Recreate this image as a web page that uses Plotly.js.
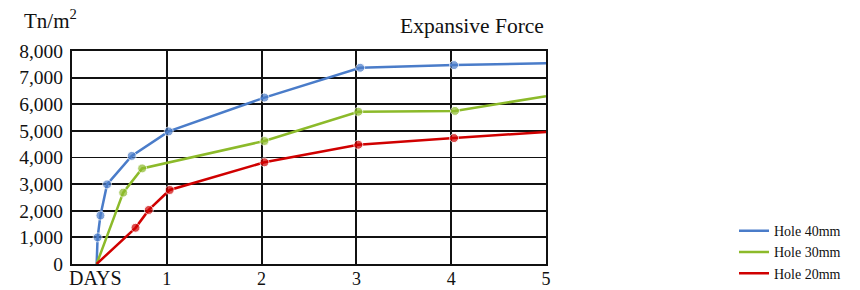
<!DOCTYPE html>
<html>
<head>
<meta charset="utf-8">
<script src="https://cdn.plot.ly/plotly-3.0.1.min.js"></script>
<style>html,body{margin:0;padding:0;background:#fff;}#chart{width:860px;height:290px;}</style>
</head>
<body>
<div id="chart"></div>
<script>
// Data (x in days, y in Tn/m²)
const hole40X = [0.26, 0.27, 0.30, 0.37, 0.63, 1.02, 2.03, 3.04, 4.03, 5.0];
const hole40Y = [0, 1000, 1820, 2990, 4060, 4980, 6250, 7370, 7470, 7540];
const hole40Marker = [0, 9, 9, 9, 9, 9, 9, 9, 9, 0];

const hole30X = [0.26, 0.54, 0.74, 2.03, 3.02, 4.04, 5.0];
const hole30Y = [0, 2680, 3590, 4620, 5720, 5750, 6300];
const hole30Marker = [0, 9, 9, 9, 9, 9, 0];

const hole20X = [0.26, 0.67, 0.81, 1.03, 2.03, 3.02, 4.03, 5.0];
const hole20Y = [0, 1360, 2030, 2780, 3820, 4480, 4730, 4960];
const hole20Marker = [0, 9, 9, 9, 9, 9, 9, 0];

const seriesNames = ['Hole 40mm', 'Hole 30mm', 'Hole 20mm'];
const seriesColors = ['#4a7cc9', '#8cba2a', '#d00000'];

const xTickVals = [1, 2, 3, 4, 5];
const xTickText = ['1', '2', '3', '4', '5'];
const yTickVals = [0, 1000, 2000, 3000, 4000, 5000, 6000, 7000, 8000];
const yTickText = ['0', '1,000', '2,000', '3,000', '4,000', '5,000', '6,000', '7,000', '8,000'];

const serif = '"Liberation Serif", "Times New Roman", serif';

function mk(x, y, sizes, i) {
  return {
    x: x, y: y, type: 'scatter', mode: 'lines+markers', name: seriesNames[i],
    showlegend: false,
    line: {color: seriesColors[i], width: 2.5},
    marker: {color: seriesColors[i], size: sizes}
  };
}
// legend-only entries (line swatch without marker, as in the reference)
function lg(i) {
  return {
    x: [null], y: [null], type: 'scatter', mode: 'lines', name: seriesNames[i],
    line: {color: seriesColors[i], width: 2.5}, hoverinfo: 'skip'
  };
}

const data = [
  mk(hole40X, hole40Y, hole40Marker, 0),
  mk(hole30X, hole30Y, hole30Marker, 1),
  mk(hole20X, hole20Y, hole20Marker, 2),
  lg(0), lg(1), lg(2)
];

const layout = {
  width: 860, height: 290,
  margin: {l: 72, r: 314, t: 51, b: 26},
  paper_bgcolor: '#ffffff', plot_bgcolor: '#ffffff',
  font: {family: serif, color: '#111', size: 19},
  showlegend: true,
  legend: {
    x: 0.8535, y: 0.258, xanchor: 'left', yanchor: 'top', xref: 'container', yref: 'container',
    font: {family: serif, size: 14, color: '#111'},
    bgcolor: 'rgba(0,0,0,0)', tracegroupgap: 0, itemwidth: 30
  },
  xaxis: {
    range: [0, 5], tickvals: xTickVals, ticktext: xTickText,
    showgrid: true, gridcolor: '#111', gridwidth: 1.8,
    showline: true, linecolor: '#111', linewidth: 2, mirror: true,
    zeroline: false, ticks: '', ticklabelstandoff: -3, automargin: false,
    tickfont: {family: serif, size: 18, color: '#111'},
    fixedrange: true
  },
  yaxis: {
    range: [0, 8000], tickvals: yTickVals, ticktext: yTickText,
    showgrid: true, gridcolor: '#111', gridwidth: 1.8,
    showline: true, linecolor: '#111', linewidth: 2, mirror: true,
    zeroline: false, ticks: '', ticklabelstandoff: 3, automargin: false,
    tickfont: {family: serif, size: 19.5, color: '#111'},
    fixedrange: true
  },
  annotations: [
    {text: 'Tn/m<sup>2</sup>', xref: 'paper', yref: 'paper', x: -0.105, y: 1.146,
     xanchor: 'left', yanchor: 'middle', showarrow: false,
     font: {family: serif, size: 21, color: '#111'}},
    {text: 'Expansive Force', xref: 'paper', yref: 'paper', x: 1.0, y: 1.117,
     xanchor: 'right', yanchor: 'middle', showarrow: false,
     font: {family: serif, size: 21.5, color: '#111'}},
    {text: 'DAYS', xref: 'paper', yref: 'paper', x: -0.01, y: -0.066,
     xanchor: 'left', yanchor: 'middle', showarrow: false,
     font: {family: serif, size: 20, color: '#111'}}
  ]
};

Plotly.newPlot('chart', data, layout, {displayModeBar: false, staticPlot: true});
</script>
</body>
</html>
